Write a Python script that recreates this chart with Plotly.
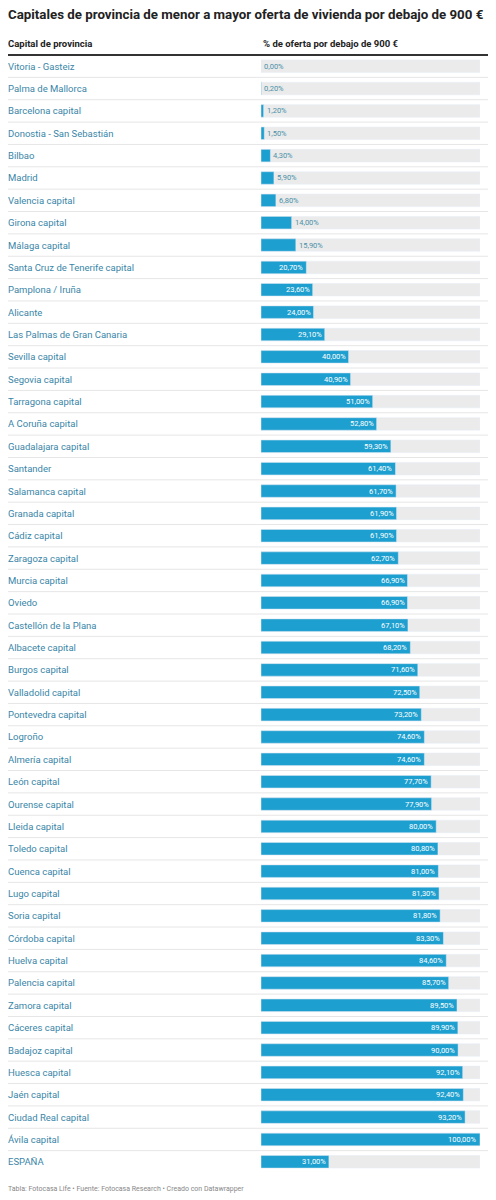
import plotly.graph_objects as go

cities = ["Vitoria - Gasteiz","Palma de Mallorca","Barcelona capital","Donostia - San Sebastián","Bilbao","Madrid","Valencia capital","Girona capital","Málaga capital","Santa Cruz de Tenerife capital","Pamplona / Iruña","Alicante","Las Palmas de Gran Canaria","Sevilla capital","Segovia capital","Tarragona capital","A Coruña capital","Guadalajara capital","Santander","Salamanca capital","Granada capital","Cádiz capital","Zaragoza capital","Murcia capital","Oviedo","Castellón de la Plana","Albacete capital","Burgos capital","Valladolid capital","Pontevedra capital","Logroño","Almería capital","León capital","Ourense capital","Lleida capital","Toledo capital","Cuenca capital","Lugo capital","Soria capital","Córdoba capital","Huelva capital","Palencia capital","Zamora capital","Cáceres capital","Badajoz capital","Huesca capital","Jaén capital","Ciudad Real capital","Ávila capital","ESPAÑA"]
values = [0.0,0.2,1.2,1.5,4.3,5.9,6.8,14.0,15.9,20.7,23.6,24.0,29.1,40.0,40.9,51.0,52.8,59.3,61.4,61.7,61.9,61.9,62.7,66.9,66.9,67.1,68.2,71.6,72.5,73.2,74.6,74.6,77.7,77.9,80.0,80.8,81.0,81.3,81.8,83.3,84.6,85.7,89.5,89.9,90.0,92.1,92.4,93.2,100.0,31.0]

OFF = 8  # page body margin
W, H = 496 - OFF, 1200 - OFF
def px(x): return (x - OFF) / W
def py(y): return 1 - (y - OFF) / H
top, bot = 55, 1173
n = len(cities)
idx = list(range(n))
font = "Roboto"

fig = go.Figure()
fig.add_bar(y=idx, x=[100]*n, orientation="h", marker_color="#ebebeb", width=0.56, hoverinfo="skip")
fig.add_bar(y=idx, x=values, orientation="h", marker_color="#1d9fcf", width=0.56)

ann = []
shapes = []
for i, (c, v) in enumerate(zip(cities, values)):
    ann.append(dict(xref="paper", yref="y", x=px(6), y=i, text=c, showarrow=False, xanchor="left",
                    font=dict(family=font, size=9.5, color="#3a86a8")))
    lab = f"{v:.2f}".replace(".", ",") + "%"
    if v >= 18:
        ann.append(dict(xref="x", yref="y", x=v, y=i, text=lab, showarrow=False, xanchor="right", xshift=-1,
                        font=dict(family=font, size=7.5, color="white")))
    else:
        ann.append(dict(xref="x", yref="y", x=v, y=i, text=lab, showarrow=False, xanchor="left", xshift=1,
                        font=dict(family=font, size=7.5, color="#4a90a8")))
    if i < n - 1:
        shapes.append(dict(type="line", xref="paper", yref="y", x0=px(6), x1=px(490), y0=i+0.5, y1=i+0.5,
                           line=dict(color="#e6e6e6", width=1)))

shapes.append(dict(type="line", xref="paper", yref="paper", x0=px(6), x1=px(490), y0=py(top), y1=py(top),
                   line=dict(color="#333", width=2)))
ann += [
    dict(xref="paper", yref="paper", x=px(6), y=py(15), text="<b>Capitales de provincia de menor a mayor oferta de vivienda por debajo de 900 €</b>",
         showarrow=False, xanchor="left", yanchor="middle", font=dict(family=font, size=13.3, color="#222")),
    dict(xref="paper", yref="paper", x=px(6), y=py(43), text="<b>Capital de provincia</b>", showarrow=False,
         xanchor="left", yanchor="middle", font=dict(family=font, size=9.5, color="#222")),
    dict(xref="paper", yref="paper", x=px(261), y=py(43), text="<b>% de oferta por debajo de 900 €</b>", showarrow=False,
         xanchor="left", yanchor="middle", font=dict(family=font, size=9.5, color="#222")),
    dict(xref="paper", yref="paper", x=px(6), y=py(1189), text="Tabla: Fotocasa Life • Fuente: Fotocasa Research • Creado con Datawrapper",
         showarrow=False, xanchor="left", yanchor="middle", font=dict(family=font, size=7, color="#888")),
]

fig.update_layout(
    width=W, height=H, margin=dict(l=0, r=0, t=0, b=0), paper_bgcolor="white", plot_bgcolor="white",
    barmode="overlay", showlegend=False, annotations=ann, shapes=shapes,
    xaxis=dict(domain=[px(261), px(480)], range=[0, 100], visible=False, fixedrange=True),
    yaxis=dict(domain=[py(bot), py(top)], range=[n-0.5, -0.5], visible=False, fixedrange=True),
)
fig.write_html("out.html")
